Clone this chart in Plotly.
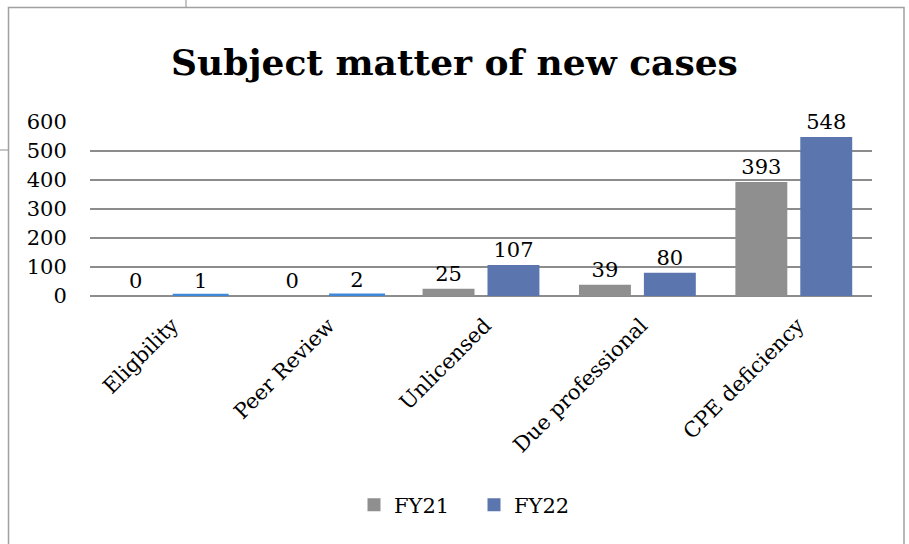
import plotly.graph_objects as go

categories = ["Eligbility", "Peer Review", "Unlicensed", "Due professional", "CPE deficiency"]
fy21 = [0, 0, 25, 39, 393]
fy22 = [1, 2, 107, 80, 548]
series_names = ["FY21", "FY22"]
y_ticks = [0, 100, 200, 300, 400, 500, 600]

GREY = "#8f8f8f"
BLUE = "#5b76ae"
LIGHT_BLUE = "#3e87d9"
FONT = "DejaVu Serif"

W, H = 909, 544
L, R, T, B = 90, 37, 122, 248
pw, ph = W - L - R, H - T - B

def px_x(x):
    return (x - L) / pw

def px_y(y):
    return (H - B - y) / ph

fy22_colors = [LIGHT_BLUE if v < 5 else BLUE for v in fy22]
fy22_line_w = [4 if v < 5 else 0 for v in fy22]

fig = go.Figure()
fig.add_trace(go.Bar(
    name=series_names[0], x=categories, y=fy21, showlegend=False,
    marker=dict(color=GREY, line=dict(width=0)),
    text=[str(v) for v in fy21], textposition="outside", constraintext="none",
    textfont=dict(family=FONT, size=21, color="#000"),
    cliponaxis=False,
))
fig.add_trace(go.Bar(
    name=series_names[1], x=categories, y=fy22, showlegend=False,
    marker=dict(color=fy22_colors, line=dict(width=fy22_line_w, color=fy22_colors)),
    text=[str(v) for v in fy22], textposition="outside", constraintext="none",
    textfont=dict(family=FONT, size=21, color="#000"),
    cliponaxis=False,
))
# legend-only entries with the series colours (square swatches)
for name, col in zip(series_names, [GREY, BLUE]):
    fig.add_trace(go.Scatter(name=name, x=[None], y=[None], mode="markers",
                             marker=dict(color=col, symbol="square", size=13),
                             showlegend=True, hoverinfo="skip"))

shapes = [
    dict(type="rect", xref="paper", yref="paper",
         x0=px_x(8.5), x1=px_x(904), y0=px_y(560), y1=px_y(7.5),
         line=dict(color="#a0a0a0", width=1.5), fillcolor="rgba(0,0,0,0)", layer="below"),
    dict(type="line", xref="paper", yref="paper",
         x0=px_x(186), x1=px_x(186), y0=px_y(0), y1=px_y(7.5),
         line=dict(color="#a0a0a0", width=1.2)),
    dict(type="line", xref="paper", yref="paper",
         x0=px_x(0), x1=px_x(8.5), y0=px_y(150), y1=px_y(150),
         line=dict(color="#a0a0a0", width=1.2)),
]

fig.update_layout(
    width=W, height=H,
    margin=dict(l=L, r=R, t=T, b=B, autoexpand=False),
    paper_bgcolor="white", plot_bgcolor="white",
    title=dict(text="<b>Subject matter of new cases</b>", x=0.5, xanchor="center",
               y=1 - 62 / H, yanchor="middle",
               font=dict(family=FONT, size=36, color="#000")),
    barmode="group", bargap=0.17, bargroupgap=0.2,
    showlegend=True,
    legend=dict(orientation="h", x=px_x(474), xanchor="center", y=px_y(505), yanchor="middle",
                font=dict(family=FONT, size=21, color="#000"), itemwidth=30,
                entrywidth=75, entrywidthmode="pixels",
                traceorder="normal"),
    xaxis=dict(tickangle=-45, tickfont=dict(family=FONT, size=21, color="#000"),
               showgrid=False, showline=False, ticks="",
               ticklabelstandoff=12, ticklabelshift=4),
    yaxis=dict(range=[0, 600], tickvals=y_ticks, ticktext=[str(v) for v in y_ticks],
               tickfont=dict(family=FONT, size=21, color="#000"),
               showgrid=True, gridcolor="#8c8c8c", gridwidth=1.5,
               zeroline=True, zerolinecolor="#8c8c8c", zerolinewidth=1.5,
               showline=False, ticks="outside", ticklen=18, tickcolor="rgba(0,0,0,0)"),
    shapes=shapes,
)

fig.write_html("out.html", config={"displayModeBar": False},
               post_script="document.body.style.margin='0';")
